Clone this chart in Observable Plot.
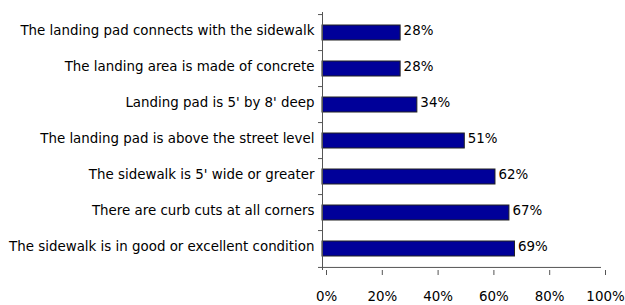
<!DOCTYPE html>
<html>
<head>
<meta charset="utf-8">
<script src="https://cdn.jsdelivr.net/npm/d3@7"></script>
<script src="https://cdn.jsdelivr.net/npm/@observablehq/plot@0.6"></script>
<style>
  html, body { margin: 0; padding: 0; background: #fff; }
  #chart svg { display: block; }
</style>
</head>
<body>
<div id="chart"></div>
<script>
const categories = [
  "The landing pad connects with the sidewalk",
  "The landing area is made of concrete",
  "Landing pad is 5' by 8' deep",
  "The landing pad is above the street level",
  "The sidewalk is 5' wide or greater",
  "There are curb cuts at all corners",
  "The sidewalk is in good or excellent condition"
];
const values = [28, 28, 34, 51, 62, 67, 69];
const xTicks = [0, 20, 40, 60, 80, 100];

const data = categories.map((c, i) => ({category: c, value: values[i]}));

const width = 625, height = 305;
const marginTop = 12, marginBottom = 35, marginLeft = 322, marginRight = 24;
const step = (height - marginTop - marginBottom) / categories.length;
const pxPerUnit = (width - marginLeft - marginRight) / 100;
const tickLen = 4 / pxPerUnit;
const font = "DejaVu Sans, sans-serif";
const fs = 13.4;
const axisColor = "#555";

const chart = Plot.plot({
  width, height, marginTop, marginBottom, marginLeft, marginRight,
  style: {fontFamily: font, fontSize: fs + "px", color: "#000", background: "#fff"},
  x: {domain: [0, 100], label: null},
  y: {domain: categories, paddingInner: 0.57, paddingOuter: 0.285, label: null},
  marks: [
    Plot.barX(data, {y: "category", x: "value", fill: "#000099", stroke: "#222", strokeWidth: 1}),
    Plot.text(data, {y: "category", x: "value", text: d => d.value + "%", textAnchor: "start", dx: 3, dy: -2, fill: "#000", fontSize: fs}),
    // left axis line
    Plot.ruleX([0], {stroke: axisColor}),
    // category boundary ticks (top of each band)
    Plot.ruleY(categories, {y: d => d, x1: -tickLen, x2: 0, dy: -step / 2, stroke: axisColor}),
    // bottom axis line and last boundary tick
    Plot.ruleY([categories[categories.length - 1]], {y: d => d, x1: -tickLen, x2: 100, dy: step / 2, stroke: axisColor}),
    Plot.axisX(xTicks, {tickSize: 5, tickPadding: 16, tickFormat: d => d + "%", stroke: axisColor, fill: "#000", dx: 4, fontSize: fs, label: null}),
    Plot.axisY({tickSize: 0, tickPadding: 8, label: null, fill: "#000", fontSize: fs, dy: -2})
  ]
});
document.getElementById("chart").appendChild(chart);
</script>
</body>
</html>
